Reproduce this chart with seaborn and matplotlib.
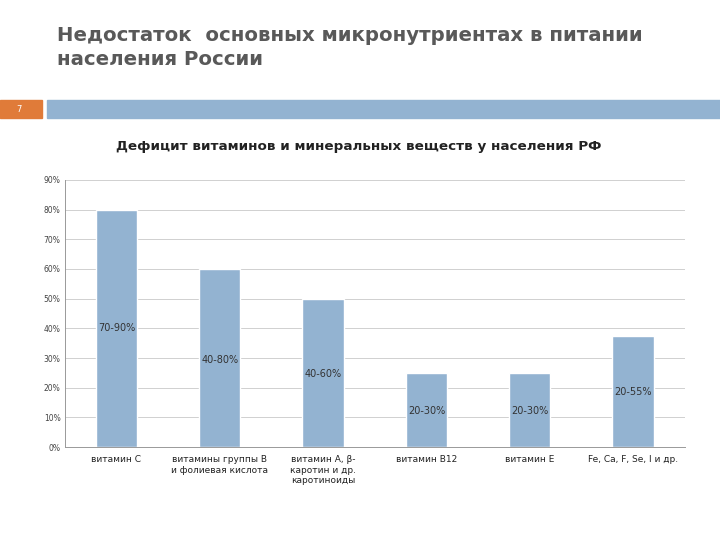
import matplotlib.pyplot as plt
import pandas as pd
import seaborn as sns
from matplotlib.patches import Rectangle

categories = ["витамин С", "витамины группы В\nи фолиевая кислота",
              "витамин А, β-\nкаротин и др.\nкаротиноиды", "витамин В12",
              "витамин Е", "Fe, Ca, F, Se, I и др."]
values = [80, 60, 50, 25, 25, 37.5]
range_labels = ["70-90%", "40-80%", "40-60%", "20-30%", "20-30%", "20-55%"]
label_y = [40, 29.5, 24.5, 12, 12, 18.5]

df = pd.DataFrame({"cat": categories, "val": values})

sns.set_style("white")
plt.rcParams['font.family'] = ['DejaVu Sans']

fig = plt.figure(figsize=(7.2, 5.4), dpi=100)

# slide header
fig.text(0.079, 0.912, "Недостаток  основных микронутриентах в питании\nнаселения России",
         fontsize=14.2, color="#595959", fontweight="bold", va="center", linespacing=1.35)
fig.patches.append(Rectangle((0, 0.782), 0.058, 0.033, transform=fig.transFigure,
                             color="#E07B39", figure=fig))
fig.text(0.026, 0.798, "7", fontsize=6, color="white", ha="center", va="center")
fig.patches.append(Rectangle((0.065, 0.782), 0.935, 0.033, transform=fig.transFigure,
                             color="#93B3D1", figure=fig))
fig.text(0.498, 0.728, "Дефицит витаминов и минеральных веществ у населения РФ",
         fontsize=9.7, fontweight="bold", ha="center", va="center", color="#222222")

ax = fig.add_axes([0.090, 0.172, 0.861, 0.495])
sns.barplot(data=df, x="cat", y="val", color="#93B3D1", width=0.4, saturation=1, ax=ax)

for i, (t, y) in enumerate(zip(range_labels, label_y)):
    ax.text(i, y, t, ha="center", va="center", fontsize=7, color="#333333")

ax.set_ylim(0, 90)
ax.set_yticks(range(0, 91, 10))
ax.set_yticklabels([f"{v}%" for v in range(0, 91, 10)], fontsize=5.5, color="#444444")
ax.set_xticks(range(len(categories)))
ax.set_xticklabels(categories, fontsize=6.5, va="top", color="#222222")
ax.set_xlabel("")
ax.set_ylabel("")
ax.grid(axis="y", color="#D0D0D0", linewidth=0.7)
ax.set_axisbelow(True)
for s in ["top", "right"]:
    ax.spines[s].set_visible(False)
for s in ["left", "bottom"]:
    ax.spines[s].set_color("#999999")
    ax.spines[s].set_linewidth(0.7)
ax.tick_params(axis="x", length=0, pad=6)
ax.tick_params(axis="y", length=0, pad=3)

fig.savefig("out.png", dpi=100)
